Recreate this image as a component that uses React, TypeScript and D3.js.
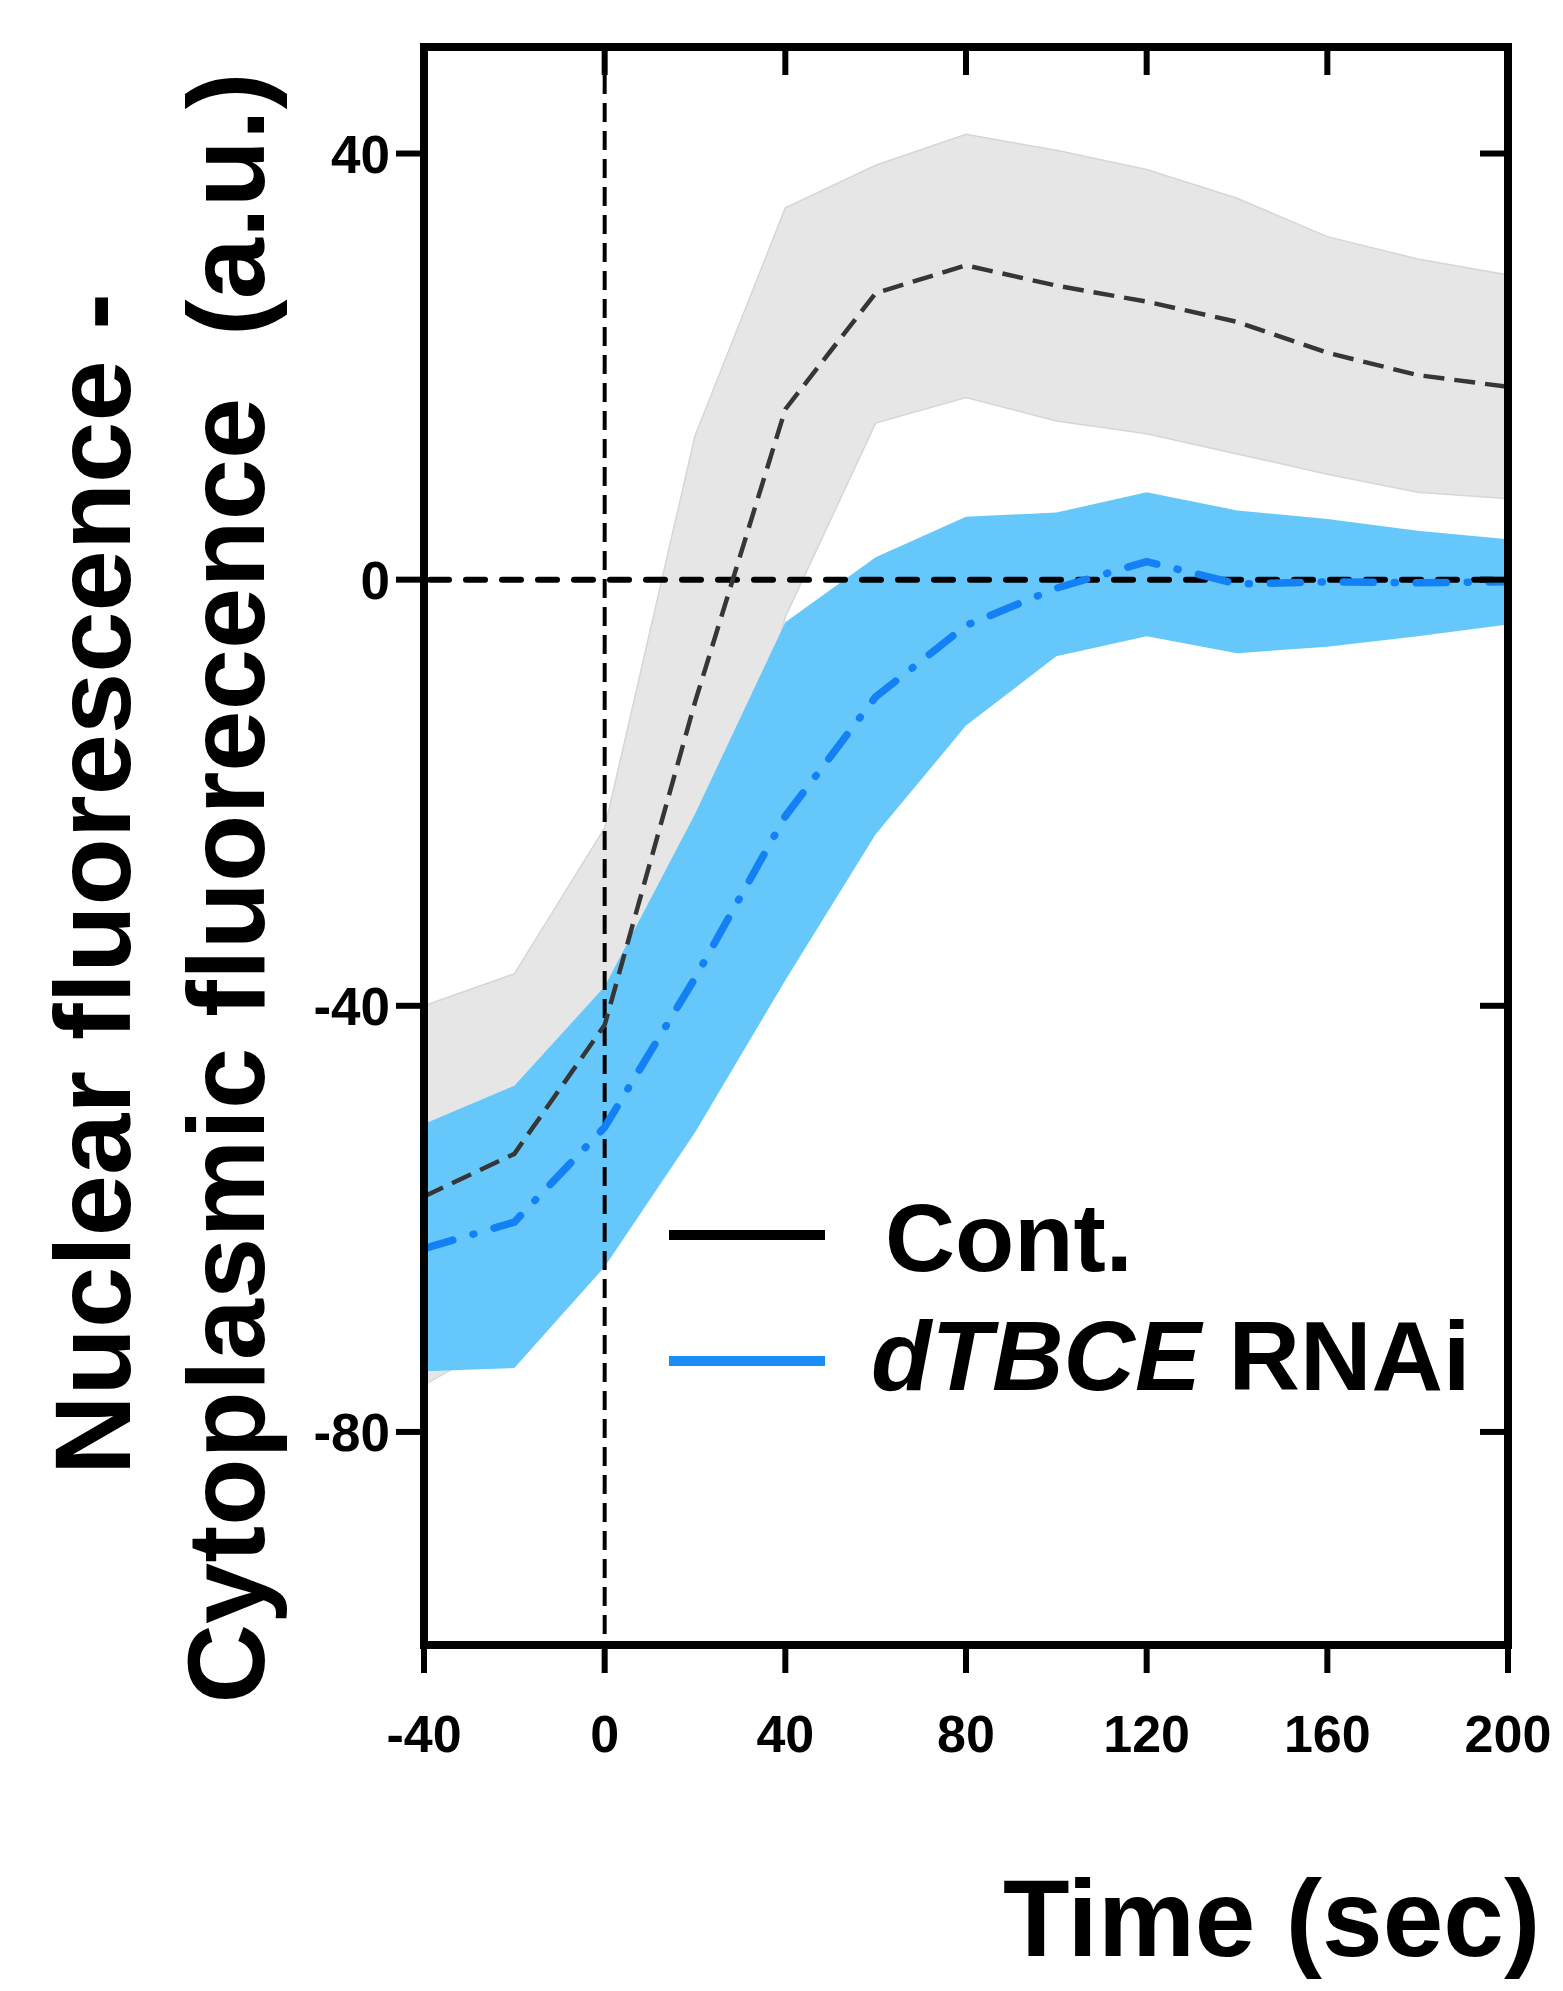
import * as d3 from 'd3';

const W = 1563;
const H = 1991;
const PLOT = { left: 424, right: 1508, top: 47, bottom: 1645 };

// time points (sec)
const times = [-40, -20, 0, 20, 40, 60, 80, 100, 120, 140, 160, 180, 200];

// Cont. (mean and band edges)
const contMean = [-57.9, -53.9, -41.8, -11.5, 16, 26.9, 29.5, 27.6, 26.1, 24.2, 21.3, 19.2, 18.1];
const contUpper = [-40, -37, -23.3, 13.5, 34.9, 38.9, 41.8, 40.3, 38.5, 35.8, 32.2, 30.1, 28.6];
const contLower = [-75.6, -70.8, -60.3, -35.8, -3.5, 14.7, 17.1, 14.9, 13.7, 11.8, 9.9, 8.2, 7.6];

// dTBCE RNAi (mean and band edges)
const rnaiMean = [-62.8, -60.3, -51.4, -37.4, -22.2, -11, -4.3, -0.8, 1.7, -0.4, -0.2, -0.3, -0.2];
const rnaiUpper = [-51.1, -47.5, -38.2, -22, -4, 2.1, 5.9, 6.3, 8.2, 6.5, 5.7, 4.6, 3.8];
const rnaiLower = [-74.3, -74.0, -64.5, -51.9, -37.6, -23.9, -13.7, -7.2, -5.3, -6.9, -6.3, -5.3, -4.2];

const xTicks = [-40, 0, 40, 80, 120, 160, 200];
const yTicks = [40, 0, -40, -80];
const topTicks = [0, 40, 80, 120, 160];

const FONT = '"Liberation Sans", Arial, Helvetica, sans-serif';

export default function App() {
  const x = d3.scaleLinear().domain([-40, 200]).range([PLOT.left, PLOT.right]);
  const y = d3.scaleLinear().domain([-100, 50]).range([PLOT.bottom, PLOT.top]);

  const contBand = d3.area<number>()
    .x((_, i) => x(times[i]))
    .y0((_, i) => y(contLower[i]))
    .y1((_, i) => y(contUpper[i]))(times) || '';
  const rnaiBand = d3.area<number>()
    .x((_, i) => x(times[i]))
    .y0((_, i) => y(rnaiLower[i]))
    .y1((_, i) => y(rnaiUpper[i]))(times) || '';

  const line = (vals: number[]) =>
    d3.line<number>().x((_, i) => x(times[i])).y(d => y(d))(vals) || '';

  const tickLen = 28;

  return (
    <svg width={W} height={H} style={{ position: 'absolute', left: 0, top: 0, background: '#fff' }}>
      {/* bands */}
      <path d={contBand} fill="#e6e6e6" stroke="#d6d6d6" strokeWidth={1.5} />
      <path d={rnaiBand} fill="#66c8fa" />

      {/* reference lines */}
      <line x1={x(-40) + 6} x2={x(200)} y1={y(0)} y2={y(0)} stroke="#000" strokeWidth={6}
        strokeLinecap="round" strokeDasharray="19 17" />
      <line x1={x(0)} x2={x(0)} y1={PLOT.top} y2={PLOT.bottom} stroke="#000" strokeWidth={4}
        strokeDasharray="19 9" />

      {/* means */}
      <path d={line(contMean)} fill="none" stroke="#363636" strokeWidth={4.5} strokeDasharray="21 10" />
      <path d={line(rnaiMean)} fill="none" stroke="#1380f5" strokeWidth={7.5} strokeLinecap="round"
        strokeDasharray="30 21 1 21" />

      {/* frame */}
      <rect x={PLOT.left} y={PLOT.top} width={PLOT.right - PLOT.left} height={PLOT.bottom - PLOT.top}
        fill="none" stroke="#000" strokeWidth={8} />

      {/* ticks */}
      {yTicks.map(t => (
        <g key={`y${t}`}>
          <line x1={PLOT.left - tickLen} x2={PLOT.left} y1={y(t)} y2={y(t)} stroke="#000" strokeWidth={6} />
          <line x1={PLOT.right - tickLen} x2={PLOT.right} y1={y(t)} y2={y(t)} stroke="#000" strokeWidth={6} />
          <text x={390} y={y(t) + 19} textAnchor="end" fontFamily={FONT} fontWeight="bold" fontSize={53}>{t}</text>
        </g>
      ))}
      {xTicks.map(t => (
        <g key={`x${t}`}>
          <line x1={x(t)} x2={x(t)} y1={PLOT.bottom} y2={PLOT.bottom + tickLen} stroke="#000" strokeWidth={6} />
          <text x={x(t)} y={1752} textAnchor="middle" fontFamily={FONT} fontWeight="bold" fontSize={52}>{t}</text>
        </g>
      ))}
      {topTicks.map(t => (
        <line key={`t${t}`} x1={x(t)} x2={x(t)} y1={PLOT.top} y2={PLOT.top + tickLen} stroke="#000" strokeWidth={6} />
      ))}

      {/* axis titles */}
      <text transform="translate(130,884) rotate(-90)" textAnchor="middle" fontFamily={FONT} fontWeight="bold"
        fontSize={108} textLength={1182} lengthAdjust="spacingAndGlyphs">
        Nuclear fluorescence -
      </text>
      <text transform="translate(264,888) rotate(-90)" textAnchor="middle" fontFamily={FONT} fontWeight="bold"
        fontSize={110} textLength={1631} lengthAdjust="spacing" style={{ whiteSpace: 'pre' }}>
        {'Cytoplasmic fluorecence  (a.u.)'}
      </text>
      <text x={1003} y={1956} fontFamily={FONT} fontWeight="bold" fontSize={109}>Time (sec)</text>

      {/* legend */}
      <line x1={669} x2={825} y1={1235} y2={1235} stroke="#000" strokeWidth={10} />
      <line x1={669} x2={825} y1={1361} y2={1361} stroke="#1a8cf5" strokeWidth={10} />
      <text x={885} y={1271} fontFamily={FONT} fontWeight="bold" fontSize={97}>Cont.</text>
      <text x={871} y={1390} fontFamily={FONT} fontWeight="bold" fontSize={99}>
        <tspan fontStyle="italic">dTBCE</tspan> RNAi
      </text>
    </svg>
  );
}
